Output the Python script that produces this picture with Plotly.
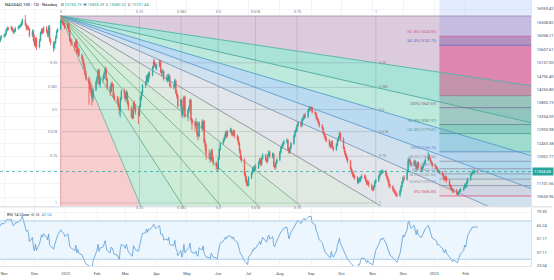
import numpy as np
import pandas as pd
import plotly.graph_objects as go

# ---------------- data (daily bars) ----------------
start_date = "2021-09-27"
first_open = 15250.0
close = [
 15200,14750,14720,14550,14700,14350,14550,14650,14780,14720,14620,14580,14700,15020,15150,15300,15420,15430,15560,15500,15680,15790,
 15880,15960,16050,
 16060,16120,16250,16310,16290,
 16330,16250,16190,16230,16310,
 16340,16380,16410,16470,16590,
 16420,16310,16350,16300,16080,
 16200,15900,15750,15950,15690,
 15900,16150,16260,16180,16330,
 16200,16100,16350,15900,15830,
 15650,15830,16000,16200,16270,
 16560,16520,16480,16430,16320,
 16430,16250,15900,15850,15820,
 15700,15890,15500,15610,15400,
 15300,15150,15000,14800,14620,
 14450,14280,14150,13960,14250,
 14500,14650,14900,14450,14600,
 14650,14800,14950,14600,14330,
 14200,14450,14400,14050,13950,
 13900,13700,13550,13950,14200,
 14100,13950,14150,13800,13650,
 13350,13300,13800,13650,13500,
 13400,13700,14000,14150,14400,
 14450,14700,14550,14800,14750,
 15000,15180,15100,15000,15050,
 15200,14850,14830,14860,14600,
 14650,14580,14720,14400,14380,
 14350,14550,14150,14050,13700,
 13900,13400,13600,14000,13350,
 13550,13650,13900,13250,13100,
 13050,13150,12750,12700,13150,
 12950,13200,12500,12350,12100,
 12050,11900,12200,11950,11800,
 11700,11600,11950,12250,12450,
 12550,12650,12800,12700,12850,
 12900,12800,12750,12850,12700,
 12600,12450,12200,11950,11900,
 11400,11250,11100,11050,11300,
 11450,11600,11550,11650,11620,
 11800,11900,11750,11950,12050,
 11900,11850,12050,12150,12000,
 12100,11700,11650,11800,11900,
 12150,12300,12350,12450,12500,
 12550,12250,12150,12300,12450,
 12700,12850,12900,13050,13150,
 13050,13250,13300,13400,13350,
 13550,13620,13600,13650,13500,
 13450,13300,13250,13150,13050,
 12950,12800,12700,12600,12550,
 12400,12350,12500,12300,12250,
 12400,12550,12650,12780,12600,
 12300,12150,12050,11950,11850,
 11600,11500,11400,11350,11300,
 11150,11250,11200,11300,11350,
 11320,11200,11100,11150,11050,
 10950,10900,11000,11150,11200,
 11350,11420,11500,11480,11520,
 11400,11300,11200,11050,11000,
 10900,10850,10780,10720,10700,
 10850,11000,11150,11300,11250,
 11500,11850,11900,11780,11720,
 11850,11700,11600,11800,11650,
 11550,11650,11750,11800,11900,
 12050,11950,11850,11780,11700,
 11650,11620,11500,11520,11480,
 11400,11300,11250,11320,11200,
 11050,10980,10900,10850,10880,
 10780,10750,10820,10860,10900,
 10950,11050,11000,11150,11250,
 11400,11450,11500,11480,11520,
 11504.68,
]
high = [
 15320,15230,14850,14780,14760,14720,14600,14700,14830,14820,14760,14680,14750,15060,15200,15340,15460,15480,15600,15590,15720,15830,
 15930,16010,16090,
 16130,16170,16300,16380,16360,
 16400,16380,16300,16290,16370,
 16400,16430,16470,16540,16650,
 16760,16480,16420,16400,16330,
 16280,16260,16100,16010,16020,
 15960,16200,16310,16320,16380,
 16390,16260,16420,16420,15990,
 15880,15890,16060,16260,16330,
 16620,16720,16600,16560,16500,
 16560,16500,16300,15980,15960,
 15860,15950,15960,15720,15660,
 15470,15400,15260,15100,14900,
 14700,14600,14500,14400,14300,
 14560,14720,14960,14950,14700,
 14750,14860,15030,15000,14660,
 14400,14500,14520,14450,14150,
 14050,14020,13800,14000,14250,
 14300,14200,14250,14200,13900,
 13700,13600,13850,13880,13750,
 13600,13750,14050,14200,14450,
 14550,14750,14780,14850,14880,
 15050,15280,15250,15150,15120,
 15260,15230,14950,14950,14900,
 14750,14780,14800,14750,14480,
 14450,14620,14600,14250,14100,
 13950,13950,13700,14050,14050,
 13600,13720,13950,13950,13300,
 13200,13300,13200,12850,13200,
 13250,13250,13220,12600,12450,
 12250,12150,12250,12280,12000,
 11850,11780,12000,12300,12500,
 12620,12720,12860,12880,12900,
 12980,12960,12880,12920,12900,
 12750,12680,12500,12250,12050,
 11950,11500,11350,11200,11350,
 11500,11650,11700,11720,11750,
 11850,11960,11950,12000,12120,
 12100,11980,12100,12220,12200,
 12150,12120,11780,11850,11950,
 12200,12350,12420,12500,12580,
 12620,12600,12300,12350,12500,
 12750,12900,12980,13100,13200,
 13200,13300,13380,13450,13480,
 13600,13700,13690,13700,13680,
 13560,13500,13380,13300,13200,
 13100,13000,12850,12750,12680,
 12600,12480,12550,12550,12350,
 12450,12600,12700,12850,12820,
 12650,12350,12200,12100,12000,
 11900,11650,11550,11480,11420,
 11350,11300,11320,11350,11420,
 11420,11380,11250,11220,11200,
 11100,11000,11050,11200,11260,
 11400,11480,11560,11570,11580,
 11560,11450,11350,11250,11100,
 11050,10950,10900,10830,10780,
 10900,11050,11200,11350,11380,
 11550,11950,12000,11950,11830,
 11900,11900,11750,11850,11850,
 11700,11700,11800,11870,11950,
 12167,12100,12000,11900,11830,
 11750,11700,11660,11580,11560,
 11520,11450,11350,11380,11360,
 11250,11100,11030,10950,10930,
 10920,10830,10870,10920,10950,
 11000,11100,11120,11200,11300,
 11450,11500,11560,11560,11580,
 11565,
]
low = [
 15150,14700,14650,14500,14500,14300,14320,14500,14620,14680,14580,14540,14550,14680,14980,15120,15260,15380,15400,15450,15480,15650,
 15780,15840,15920,
 15990,16010,16080,16200,16230,
 16240,16190,16120,16130,16180,
 16260,16290,16330,16360,16420,
 16380,16230,16250,16240,16000,
 16020,15850,15700,15660,15580,
 15640,15860,16100,16120,16140,
 16150,16020,16000,15850,15750,
 15520,15600,15790,15960,16160,
 16240,16480,16420,16380,16280,
 16280,16180,15860,15720,15750,
 15550,15650,15460,15420,15350,
 15220,15080,14940,14720,14560,
 13750,14180,14050,13720,13850,
 14200,14430,14600,14380,14320,
 14530,14600,14760,14550,14250,
 14050,14150,14320,13980,13880,
 13800,13640,13400,13320,13880,
 13950,13850,13900,13750,13550,
 13300,13250,13280,13580,13420,
 13100,13350,13650,13900,14050,
 14320,14400,14500,14480,14650,
 14700,14950,15020,14920,14900,
 15000,14800,14700,14720,14550,
 14500,14500,14520,14350,14300,
 14250,14300,14100,13950,13650,
 13600,13350,13300,13550,13300,
 13200,13450,13550,13150,12900,
 12850,12950,12650,12550,12650,
 12850,12900,12450,12200,11900,
 11950,11800,11850,11850,11700,
 11580,11500,11550,11900,12200,
 12400,12500,12600,12620,12650,
 12800,12720,12680,12700,12620,
 12520,12380,12120,11880,11800,
 11350,11150,11020,11000,11000,
 11250,11400,11480,11500,11560,
 11580,11750,11680,11700,11900,
 11850,11780,11800,12000,11950,
 11950,11650,11560,11600,11750,
 11850,12100,12250,12300,12400,
 12450,12200,12100,12100,12250,
 12400,12650,12800,12850,13000,
 12980,13000,13200,13250,13280,
 13300,13500,13530,13550,13450,
 13380,13250,13180,13080,12980,
 12880,12730,12620,12530,12480,
 12330,12280,12300,12250,12180,
 12200,12350,12500,12600,12550,
 12250,12080,11980,11880,11780,
 11550,11430,11330,11280,11220,
 11080,11100,11130,11150,11250,
 11250,11150,11030,11050,10980,
 10880,10840,10850,10950,11100,
 11150,11300,11380,11420,11430,
 11350,11230,11130,10980,10930,
 10830,10780,10720,10660,10650,
 10660,10800,10950,11100,11200,
 11200,11450,11800,11720,11650,
 11680,11650,11530,11550,11600,
 11480,11500,11600,11700,11750,
 11850,11900,11800,11720,11640,
 11600,11560,11450,11450,11420,
 11340,11240,11180,11200,11130,
 10980,10920,10840,10790,10780,
 10720,10686,10700,10780,10810,
 10850,10900,10950,10960,11100,
 11200,11350,11400,11430,11450,
 11460,
]

price_ticks = [10650.96, 11101.56, 11552.17, 12002.77, 12453.38, 12903.98, 13354.59, 13805.19,
               14255.80, 14706.40, 15157.00, 15607.61, 16058.21, 16508.82, 16959.42]
rsi_ticks = [23.04, 37.11, 51.17, 65.24, 79.30]
rsi_band = [30, 70]
month_ticks = ["2021-11-01", "2021-12-01", "2022-01-01", "2022-02-01", "2022-03-01", "2022-04-01",
               "2022-05-01", "2022-06-01", "2022-07-01", "2022-08-01", "2022-09-01", "2022-10-01",
               "2022-11-01", "2022-12-01", "2023-01-01", "2023-02-01"]
month_labels = ["Nov", "Dec", "2022", "Feb", "Mar", "Apr", "May", "Jun", "Jul", "Aug", "Sep", "Oct",
                "Nov", "Dec", "2023", "Feb"]

fan_start = ("2021-12-27", 16724.0)
fan_end = ("2022-11-04", 10449.0)
fan_levels = [0, 0.25, 0.382, 0.5, 0.618, 0.75, 1]

fib_start = "2023-01-06"
fib_low = 10685.83
fib_high = 12166.76
fib_levels = [0, 0.236, 0.382, 0.5, 0.618, 0.786, 1, 1.414, 1.618, 2, 2.272, 3.414, 3.618, 4.618]
fib_labelled = [0, 0.236, 0.382, 0.5, 0.618, 0.786, 1, 1.414, 1.618, 2, 3.414, 3.618]

header_title = "NASDAQ 100 · 1D · Nasdaq"
header_ohlc = [("O", "15750.79"), ("H", "15855.39"), ("L", "15680.32"), ("C", "15751.44")]
rsi_title = "RSI 14 Close"
rsi_value_text = "40.54"

# ---------------- derived series ----------------
n = len(close)
dates = pd.bdate_range(start_date, periods=n)
opens = [first_open] + close[:-1]
highs = [max(h, o, c) for h, o, c in zip(high, opens, close)]
lows = [min(l, o, c) for l, o, c in zip(low, opens, close)]


def wilder_rsi(vals, period=14):
    c = np.asarray(vals, float)
    d = np.diff(c)
    up = np.where(d > 0, d, 0.0)
    dn = np.where(d < 0, -d, 0.0)
    out = np.full(len(c), np.nan)
    au, ad = up[:period].mean(), dn[:period].mean()
    out[period] = 100 - 100 / (1 + au / ad)
    for i in range(period, len(d)):
        au = (au * (period - 1) + up[i]) / period
        ad = (ad * (period - 1) + dn[i]) / period
        out[i + 1] = 100 - 100 / (1 + au / ad)
    return out


rsi = wilder_rsi(close)

# ---------------- layout geometry (pixels) ----------------
W, H = 554, 280
MR, MB = 21, 14
PW, PH = W - MR, H - MB          # plot area 533 x 266
MAIN_BOTTOM = 206                # main pane bottom (px from top)
RSI_TOP = 207.5
ppd = 370 / 365                  # px per calendar day
t_ref = pd.Timestamp("2022-01-01")
x_start = t_ref - pd.Timedelta(days=66 / ppd)
x_end = x_start + pd.Timedelta(days=PW / ppd)
ppp = (197 - 9) / (price_ticks[-1] - price_ticks[0])
P_TOP = price_ticks[-1] + 9 / ppp
P_BOT = price_ticks[0] - (MAIN_BOTTOM - 197) / ppp
rpp = (266 - 212) / (rsi_ticks[-1] - rsi_ticks[0])
R_TOP = rsi_ticks[-1] + (212 - RSI_TOP) / rpp
R_BOT = rsi_ticks[0] - 0.05


def d2px(t):
    return (pd.Timestamp(t) - x_start) / pd.Timedelta(days=1) * ppd


def px2d(px):
    return x_start + pd.Timedelta(days=px / ppd)


def p2px(p):
    return (P_TOP - p) * ppp


def px2p(y):
    return P_TOP - y / ppp


traces = []

# ---------------- Fib speed resistance fan ----------------
O = (d2px(fan_start[0]), p2px(fan_start[1]))
E = (d2px(fan_end[0]), p2px(fan_end[1]))
XR, YB = PW + 4, MAIN_BOTTOM + 4

fan_dirs = [(E[0], O[1] + L * (E[1] - O[1])) for L in fan_levels] + \
           [(O[0] + L * (E[0] - O[0]), E[1]) for L in reversed(fan_levels[:-1])]


def endpoint(P):
    dx, dy = P[0] - O[0], P[1] - O[1]
    ts = []
    if dx > 1e-9:
        ts.append((XR - O[0]) / dx)
    if dy > 1e-9:
        ts.append((YB - O[1]) / dy)
    t = min(ts)
    return (O[0] + t * dx, O[1] + t * dy)


def bpos(pt):
    return pt[1] if abs(pt[0] - XR) < 1e-6 else YB + (XR - pt[0])


ends = [endpoint(P) for P in fan_dirs]
region_colors = ["#dccbdd", "#a9e2d6", "#bde8dc", "#badaf2", "#cfe0ee", "#e2e5ea",
                 "#dfe8e1", "#d5ebd9", "#d0ecd6", "#cdebd5", "#c6ebda", "#f7cdcd"]
line_colors = ["#a393b0", "#4fb3a3", "#4aa99c", "#4f9fc4", "#5a9bd0", "#7896b4", "#8a9099",
               "#86a68e", "#72ae84", "#66b07f", "#63b28c", "#6cb5a2", "#e09a9a"]

for i in range(len(ends) - 1):
    a, b = ends[i], ends[i + 1]
    pts = [O, a]
    if bpos(a) < YB < bpos(b):
        pts.append((XR, YB))
    pts += [b, O]
    traces.append(go.Scatter(x=[px2d(p[0]) for p in pts], y=[px2p(p[1]) for p in pts],
                             mode="lines", fill="toself", fillcolor=region_colors[i],
                             line=dict(width=0), hoverinfo="skip", xaxis="x", yaxis="y"))

# ---------------- Fib retracement bands ----------------
fib_prices = [fib_low + L * (fib_high - fib_low) for L in fib_levels]
band_colors = ["rgba(242,54,69,0.06)", "rgba(255,152,0,0.06)", "rgba(76,175,80,0.06)",
               "rgba(8,153,129,0.06)", "rgba(0,188,212,0.06)", "rgba(120,123,134,0.06)",
               "rgba(0,150,136,0.16)", "rgba(0,120,110,0.26)", "rgba(50,80,100,0.20)",
               "rgba(90,90,100,0.22)", "rgba(225,50,120,0.45)", "rgba(110,40,130,0.35)",
               "rgba(41,98,255,0.13)"]
fib_line_colors = ["#e0507a", "#8a93a8", "#8a93a8", "#8a93a8", "#8a93a8", "#8a93a8", "#5b8bc8",
                   "#4f9a90", "#4f8a90", "#7b6a98", "#8a7a90", "#5b6fc8", "#d0609a", "#5b8bc8"]
fx0 = pd.Timestamp(fib_start)
fx1 = px2d(PW + 6)
for i in range(len(fib_prices) - 1):
    p0, p1 = fib_prices[i], fib_prices[i + 1]
    traces.append(go.Scatter(x=[fx0, fx1, fx1, fx0, fx0], y=[p0, p0, p1, p1, p0], mode="lines",
                             fill="toself", fillcolor=band_colors[i], line=dict(width=0),
                             hoverinfo="skip", xaxis="x", yaxis="y"))

# fan box grid
gx, gy = [], []
for L in fan_levels[1:]:
    xx = O[0] + L * (E[0] - O[0])
    gx += [px2d(xx), px2d(xx), None]
    gy += [px2p(O[1]), px2p(E[1]), None]
    yy = O[1] + L * (E[1] - O[1])
    gx += [px2d(O[0]), px2d(E[0]), None]
    gy += [px2p(yy), px2p(yy), None]
traces.append(go.Scatter(x=gx, y=gy, mode="lines", line=dict(color="rgba(110,120,135,0.40)", width=0.6),
                         hoverinfo="skip", xaxis="x", yaxis="y"))

# fan lines
for e, col in zip(ends, line_colors):
    traces.append(go.Scatter(x=[px2d(O[0]), px2d(e[0])], y=[px2p(O[1]), px2p(e[1])], mode="lines",
                             line=dict(color=col, width=0.9), hoverinfo="skip", xaxis="x", yaxis="y"))

# fib lines
for p, col in zip(fib_prices, fib_line_colors):
    traces.append(go.Scatter(x=[fx0, fx1], y=[p, p], mode="lines", line=dict(color=col, width=0.8),
                             hoverinfo="skip", xaxis="x", yaxis="y"))

# ---------------- candles (on an overlaying axis pair so they sit above the drawings) ----------------
traces.append(go.Candlestick(
    x=dates, open=opens, high=highs, low=lows, close=close, xaxis="x3", yaxis="y3",
    increasing=dict(line=dict(color="#26a69a", width=0.8), fillcolor="#26a69a"),
    decreasing=dict(line=dict(color="#ef5350", width=0.8), fillcolor="#ef5350"),
    whiskerwidth=0, hoverinfo="skip"))

# ---------------- RSI ----------------
traces.append(go.Scatter(x=dates, y=rsi, mode="lines", line=dict(color="#5b9bd5", width=0.8),
                         hoverinfo="skip", xaxis="x2", yaxis="y2"))

fig = go.Figure(traces)

FONT = "Roboto, Liberation Sans, sans-serif"
annotations = []


def ann(xpx, ypx, text, color="#787b86", size=3.6, xanchor="center", yanchor="middle", **kw):
    annotations.append(dict(x=px2d(xpx), y=px2p(ypx), xref="x", yref="y", text=text, showarrow=False,
                            xanchor=xanchor, yanchor=yanchor, font=dict(size=size, color=color, family=FONT),
                            **kw))


def fmt(L):
    return ("%g" % L)


# fan labels
for L in fan_levels:
    ann(O[0] + L * (E[0] - O[0]), O[1] - 0.3, fmt(L), yanchor="bottom")
for L in fan_levels[1:]:
    yy = O[1] + L * (E[1] - O[1])
    ann(O[0] - 1.5, yy, fmt(L), xanchor="right")
    ann(E[0] + 1.5, yy, fmt(L), xanchor="left")
for L in fan_levels[1:-1]:
    ann(O[0] + L * (E[0] - O[0]), E[1] + 0.5, fmt(L), yanchor="top")

# fib labels
for L, p in zip(fib_levels, fib_prices):
    if L in fib_labelled:
        col = fib_line_colors[fib_levels.index(L)]
        annotations.append(dict(x=fx0, y=p, xref="x", yref="y", text="%g%%(%.2f)" % (L * 100, p),
                                showarrow=False, xanchor="right", yanchor="bottom", xshift=-1,
                                font=dict(size=3.6, color=col, family=FONT)))

# current price label
last = close[-1]
annotations.append(dict(x=1, y=last, xref="paper", yref="y", text="%.2f" % last, showarrow=False,
                        xanchor="left", yanchor="middle", xshift=1, bgcolor="#26a69a", borderpad=1,
                        font=dict(size=4, color="white", family=FONT)))

# header
annotations.append(dict(x=3 / PW, y=1 - 4 / PH, xref="paper", yref="paper", text=header_title,
                        showarrow=False, xanchor="left", yanchor="middle",
                        font=dict(size=4.3, color="#131722", family=FONT)))
ohlc_txt = "  ".join("%s <span style='color:#26a69a'>%s</span>" % (k, v) for k, v in header_ohlc)
annotations.append(dict(x=59 / PW, y=1 - 4 / PH, xref="paper", yref="paper", text=ohlc_txt,
                        showarrow=False, xanchor="left", yanchor="middle",
                        font=dict(size=4.0, color="#131722", family=FONT)))
annotations.append(dict(x=5 / PW, y=(PH - 214) / PH, xref="paper", yref="paper",
                        text=rsi_title + "  ⊙  ⊡  <span style='color:#5b9bd5'>" + rsi_value_text + "</span>",
                        showarrow=False, xanchor="left", yanchor="middle",
                        font=dict(size=4.0, color="#131722", family=FONT)))

shapes = [
    dict(type="line", xref="paper", yref="y", x0=0, x1=1, y0=last, y1=last,
         line=dict(color="rgba(38,166,154,0.9)", width=0.8, dash="dot")),
    dict(type="rect", xref="paper", yref="y2", x0=0, x1=1, y0=rsi_band[0], y1=rsi_band[1],
         fillcolor="rgba(33,150,243,0.09)", line=dict(width=0), layer="below"),
    dict(type="line", xref="paper", yref="y2", x0=0, x1=1, y0=rsi_band[0], y1=rsi_band[0],
         line=dict(color="#9cc3e6", width=0.8)),
    dict(type="line", xref="paper", yref="y2", x0=0, x1=1, y0=rsi_band[1], y1=rsi_band[1],
         line=dict(color="#9cc3e6", width=0.8)),
    dict(type="line", xref="paper", yref="paper", x0=0, x1=W / PW, y0=(PH - 206.8) / PH,
         y1=(PH - 206.8) / PH, line=dict(color="#d1d4dc", width=1)),
]

axis_font = dict(size=4, color="#4a4e59", family=FONT)
price_text = ["" if v == price_ticks[2] else "%.2f" % v for v in price_ticks]
main_dom = [1 - MAIN_BOTTOM / PH, 1]
fig.update_layout(
    width=W, height=H, margin=dict(l=0, r=MR, t=0, b=MB),
    paper_bgcolor="white", plot_bgcolor="white", showlegend=False, hovermode=False,
    xaxis=dict(domain=[0, 1], range=[x_start, x_end], anchor="y", showticklabels=False,
               tickvals=month_ticks, showgrid=True, gridcolor="#f2f4f8", zeroline=False,
               rangeslider=dict(visible=False), fixedrange=True),
    xaxis3=dict(domain=[0, 1], range=[x_start, x_end], anchor="y3", overlaying="x", visible=False,
                rangeslider=dict(visible=False), fixedrange=True),
    xaxis2=dict(domain=[0, 1], matches="x", anchor="y2", tickvals=month_ticks, ticktext=month_labels,
                tickfont=axis_font, showgrid=True, gridcolor="#f2f4f8", zeroline=False,
                showline=True, linecolor="#e0e3eb", ticks="", ticklabelstandoff=3,
                range=[x_start, x_end], fixedrange=True),
    yaxis=dict(domain=main_dom, range=[P_BOT, P_TOP], side="right", anchor="x",
               tickvals=price_ticks, ticktext=price_text, tickfont=axis_font,
               showgrid=True, gridcolor="#f2f4f8", zeroline=False, showline=True, linecolor="#e0e3eb",
               ticks="", ticklabelstandoff=4, fixedrange=True),
    yaxis3=dict(domain=main_dom, range=[P_BOT, P_TOP], anchor="x3", overlaying="y", visible=False,
                fixedrange=True),
    yaxis2=dict(domain=[0, (PH - RSI_TOP) / PH], range=[R_BOT, R_TOP], side="right", anchor="x2",
                tickvals=rsi_ticks, ticktext=["%.2f" % v for v in rsi_ticks], tickfont=axis_font,
                showgrid=True, gridcolor="#f2f4f8", zeroline=False, showline=True, linecolor="#e0e3eb",
                ticks="", ticklabelstandoff=4, fixedrange=True),
    annotations=annotations, shapes=shapes,
)

fig.write_html("out.html")
